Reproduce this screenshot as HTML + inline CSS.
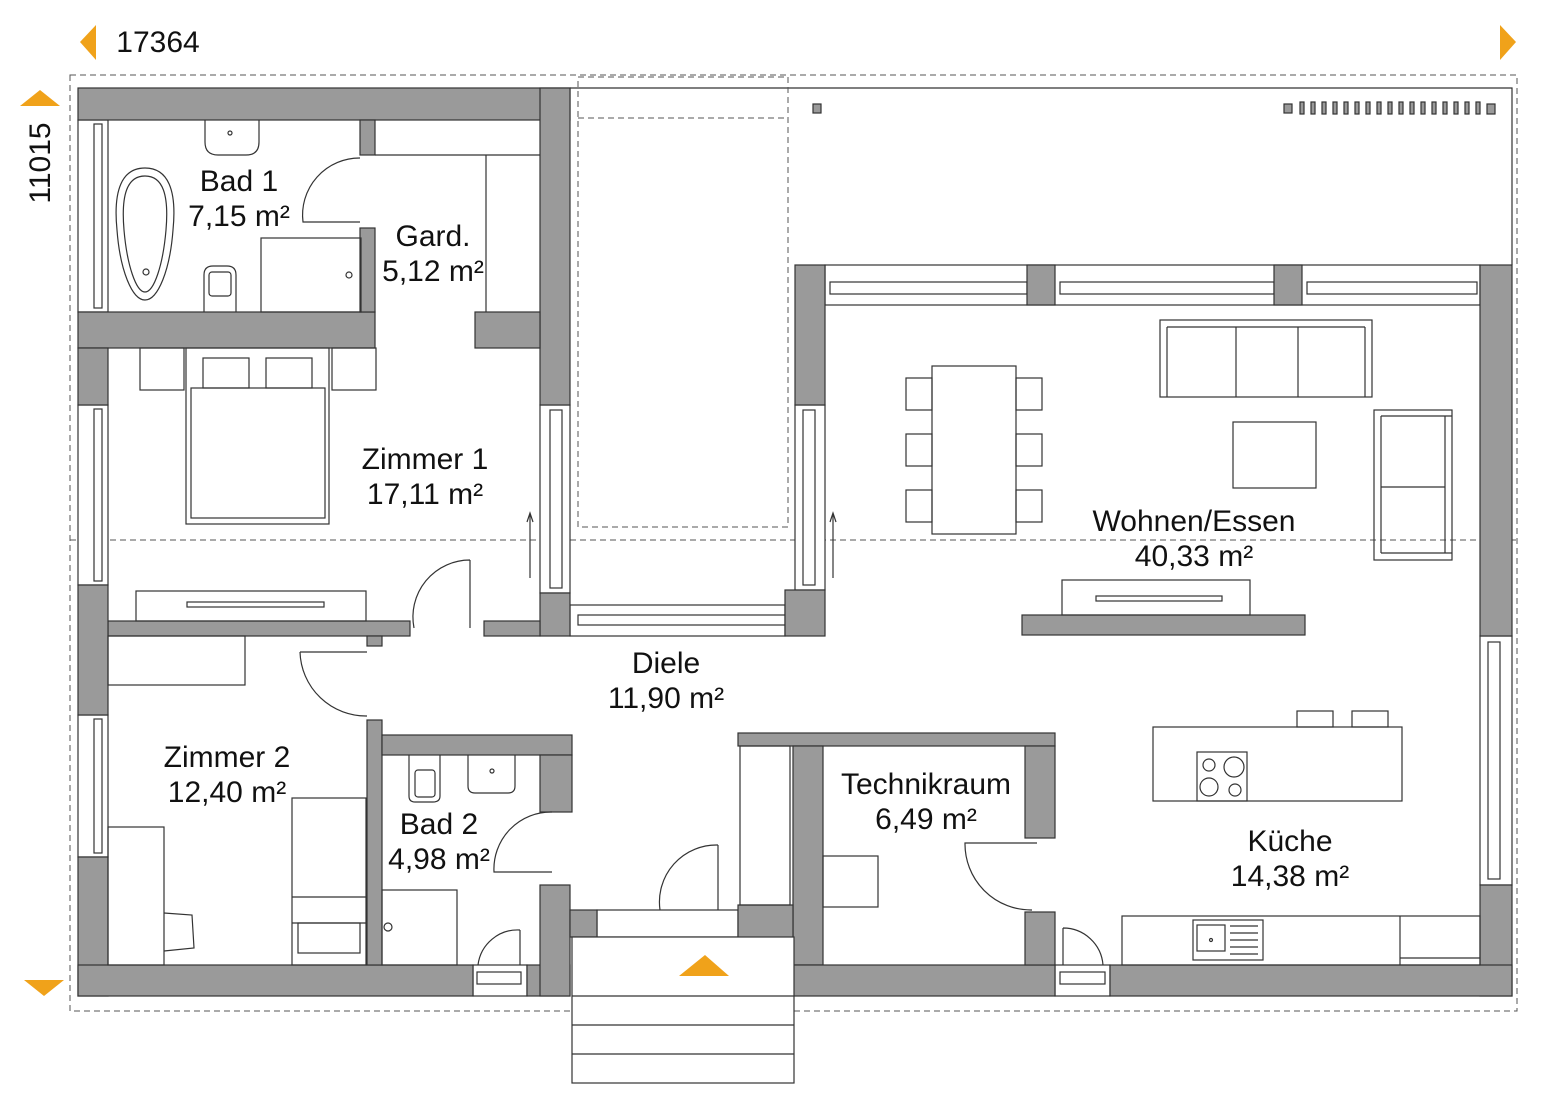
<!DOCTYPE html>
<html><head><meta charset="utf-8"><style>
body{margin:0;background:#fff}
svg{display:block}
text{font-family:"Liberation Sans",sans-serif;font-size:29px;fill:#111;text-anchor:middle}
.w{fill:#9a9a9a;stroke:#333;stroke-width:1.2}
.f{fill:#fff;stroke:#333;stroke-width:1.2}
.l{fill:none;stroke:#333;stroke-width:1.2}
.d{fill:none;stroke:#555;stroke-width:1;stroke-dasharray:6 4}
</style></head><body>
<svg width="1556" height="1117" viewBox="0 0 1556 1117" xmlns="http://www.w3.org/2000/svg">
<polygon points="96,25 80,42 96,60" fill="#f0a21a"/>
<polygon points="1500,25 1516,42 1500,60" fill="#f0a21a"/>
<polygon points="20,106 40,90 60,106" fill="#f0a21a"/>
<polygon points="24,980 44,996 64,980" fill="#f0a21a"/>
<text x="158" y="52" style="font-size:30px">17364</text>
<text x="0" y="0" transform="translate(50,163) rotate(-90)" style="font-size:30px">11015</text>
<rect class="d" x="70" y="75" width="1447" height="936"/>
<line class="d" x1="70" y1="540" x2="1517" y2="540"/>
<path class="l" d="M570,88 H1512 V265"/>
<rect class="d" x="578" y="77" width="210" height="450"/>
<line class="d" x1="578" y1="118" x2="788" y2="118"/>
<rect class="w" x="813" y="104" width="8" height="9"/>
<rect class="w" x="1284" y="104" width="8" height="9"/>
<g class="w">
<rect x="1300" y="102" width="4" height="12"/><rect x="1311" y="102" width="4" height="12"/><rect x="1322" y="102" width="4" height="12"/><rect x="1333" y="102" width="4" height="12"/><rect x="1344" y="102" width="4" height="12"/><rect x="1355" y="102" width="4" height="12"/><rect x="1366" y="102" width="4" height="12"/><rect x="1377" y="102" width="4" height="12"/><rect x="1388" y="102" width="4" height="12"/><rect x="1399" y="102" width="4" height="12"/><rect x="1410" y="102" width="4" height="12"/><rect x="1421" y="102" width="4" height="12"/><rect x="1432" y="102" width="4" height="12"/><rect x="1443" y="102" width="4" height="12"/><rect x="1454" y="102" width="4" height="12"/><rect x="1465" y="102" width="4" height="12"/><rect x="1476" y="102" width="4" height="12"/>
</g>
<rect class="w" x="1487" y="104" width="8" height="10"/>

<g class="f">
<rect x="78" y="120" width="30" height="192"/><rect x="94" y="124" width="8" height="184"/>
<rect x="78" y="405" width="30" height="180"/><rect x="94" y="409" width="8" height="172"/>
<rect x="78" y="715" width="30" height="142"/><rect x="94" y="719" width="8" height="134"/>
<rect x="540" y="405" width="30" height="188"/><rect x="550" y="410" width="12" height="178"/>
<rect x="795" y="405" width="30" height="185"/><rect x="803" y="410" width="12" height="175"/>
<rect x="825" y="265" width="655" height="40"/>
<rect x="830" y="282" width="197" height="12"/><rect x="1060" y="282" width="214" height="12"/><rect x="1307" y="282" width="170" height="12"/>
<rect x="1480" y="636" width="32" height="249"/><rect x="1488" y="642" width="12" height="237"/>
<rect x="570" y="605" width="215" height="31"/><rect x="578" y="615" width="207" height="10"/>
<rect x="473" y="965" width="54" height="31"/><rect x="477" y="972" width="44" height="12"/>
<rect x="1055" y="965" width="55" height="31"/><rect x="1060" y="972" width="45" height="12"/>
<rect x="597" y="910" width="141" height="27"/>
</g>
<g class="w">
<rect x="78" y="88" width="492" height="32"/>
<rect x="540" y="88" width="30" height="317"/>
<rect x="78" y="312" width="297" height="36"/>
<rect x="78" y="348" width="30" height="57"/>
<rect x="360" y="120" width="15" height="35"/>
<rect x="360" y="228" width="15" height="84"/>
<rect x="475" y="312" width="65" height="36"/>
<rect x="540" y="593" width="30" height="43"/>
<rect x="484" y="621" width="56" height="15"/>
<rect x="108" y="621" width="302" height="15"/>
<rect x="367" y="636" width="15" height="10"/>
<rect x="78" y="585" width="30" height="130"/>
<rect x="78" y="857" width="30" height="139"/>
<rect x="78" y="965" width="395" height="31"/>
<rect x="527" y="965" width="43" height="31"/>
<rect x="540" y="885" width="30" height="111"/>
<rect x="570" y="910" width="27" height="27"/>
<rect x="367" y="720" width="15" height="245"/>
<rect x="382" y="735" width="190" height="20"/>
<rect x="540" y="755" width="32" height="57"/>
<rect x="785" y="590" width="40" height="46"/>
<rect x="795" y="265" width="30" height="140"/>
<rect x="1027" y="265" width="28" height="40"/>
<rect x="1274" y="265" width="28" height="40"/>
<rect x="1480" y="265" width="32" height="371"/>
<rect x="1480" y="885" width="32" height="111"/>
<rect x="1110" y="965" width="402" height="31"/>
<rect x="738" y="733" width="317" height="13"/>
<rect x="793" y="746" width="30" height="219"/>
<rect x="738" y="905" width="55" height="91"/>
<rect x="793" y="965" width="262" height="31"/>
<rect x="1025" y="746" width="30" height="92"/>
<rect x="1025" y="912" width="30" height="53"/>
<rect x="1022" y="615" width="283" height="20"/>
</g>
<rect class="f" x="572" y="937" width="222" height="146"/>
<line class="l" x1="572" y1="996" x2="794" y2="996"/>
<line class="l" x1="572" y1="1025" x2="794" y2="1025"/>
<line class="l" x1="572" y1="1054" x2="794" y2="1054"/>
<polygon points="679,976 705,955 729,976" fill="#f0a21a"/>
<g class="l">
<path d="M360,158 A57,57 0 0 0 303,222 H360"/>
<path d="M470,560 V628 M470,560 A57,57 0 0 0 414,628"/>
<path d="M300,652 H367 M300,652 A66,66 0 0 0 367,716"/>
<path d="M552,812 A57,57 0 0 0 494,872 H552"/>
<path d="M1037,843 H965 A66,66 0 0 0 1032,910"/>
<path d="M718,845 V910 M718,845 A57,57 0 0 0 660,910"/>
<path d="M520,930 V965 M520,930 A40,40 0 0 0 478,965"/>
<path d="M1063,928 V965 M1063,928 A40,40 0 0 1 1103,965"/>
<line x1="530" y1="578" x2="530" y2="515"/><path d="M527,522 L530,513 L533,522"/>
<line x1="833" y1="578" x2="833" y2="515"/><path d="M830,522 L833,513 L836,522"/>
</g>
<g class="l">
<path d="M205,120 V142 Q205,155 218,155 H246 Q259,155 259,142 V120"/>
<circle cx="230" cy="133" r="2"/>
<path d="M145,168 C168,168 177,190 173,230 C170,270 158,300 145,300 C132,300 120,270 117,230 C113,190 122,168 145,168 Z"/>
<path d="M145,176 C163,176 169,195 166,230 C163,265 154,292 145,292 C136,292 127,265 124,230 C121,195 127,176 145,176 Z"/>
<circle cx="146" cy="272" r="3"/>
<path d="M204,312 V275 Q204,266 213,266 H227 Q236,266 236,275 V312"/>
<rect x="209" y="272" width="22" height="24" rx="3"/>
<rect x="261" y="238" width="100" height="74"/>
<circle cx="349" cy="275" r="3"/>
<path d="M375,155 H540 M486,155 V312"/>
</g>
<g class="l">
<rect x="140" y="348" width="44" height="42"/><rect x="332" y="348" width="44" height="42"/>
<rect x="186" y="348" width="143" height="176"/>
<rect x="191" y="388" width="134" height="130"/>
<rect x="203" y="358" width="46" height="30"/><rect x="266" y="358" width="46" height="30"/>
<rect x="136" y="591" width="230" height="30"/>
<rect x="187" y="602" width="137" height="5"/>
</g>
<g class="l">
<rect x="108" y="636" width="137" height="49"/>
<rect x="108" y="827" width="56" height="138"/>
<path d="M164,913 L192,915 L194,948 L164,951"/>
<rect x="292" y="798" width="74" height="167"/>
<line x1="292" y1="897" x2="366" y2="897"/><line x1="292" y1="923" x2="366" y2="923"/>
<rect x="298" y="923" width="62" height="30"/>
</g>
<g class="l">
<path d="M409,755 V796 Q409,802 415,802 H433 Q440,802 440,796 V755"/><rect x="415" y="770" width="20" height="27" rx="3"/>
<path d="M468,755 V786 Q468,793 475,793 H508 Q515,793 515,786 V755"/><circle cx="492" cy="771" r="2"/>
<rect x="382" y="890" width="75" height="75"/><circle cx="388" cy="927" r="4"/>
</g>
<rect class="l" x="740" y="746" width="50" height="159"/>
<rect class="l" x="823" y="856" width="55" height="51"/>
<g class="l">
<rect x="1160" y="320" width="212" height="77"/>
<line x1="1236" y1="327" x2="1236" y2="397"/><line x1="1298" y1="327" x2="1298" y2="397"/>
<line x1="1167" y1="327" x2="1167" y2="397"/><line x1="1365" y1="327" x2="1365" y2="397"/><line x1="1167" y1="327" x2="1365" y2="327"/>
<rect x="1233" y="422" width="83" height="66"/>
<rect x="1374" y="410" width="78" height="150"/>
<line x1="1381" y1="416" x2="1381" y2="553"/><line x1="1381" y1="416" x2="1452" y2="416"/><line x1="1381" y1="553" x2="1452" y2="553"/><line x1="1381" y1="487" x2="1445" y2="487"/><line x1="1445" y1="416" x2="1445" y2="553"/>
<rect x="932" y="366" width="84" height="168"/>
<rect x="906" y="378" width="26" height="32"/><rect x="906" y="434" width="26" height="32"/><rect x="906" y="490" width="26" height="32"/>
<rect x="1016" y="378" width="26" height="32"/><rect x="1016" y="434" width="26" height="32"/><rect x="1016" y="490" width="26" height="32"/>
<rect x="1062" y="580" width="188" height="35"/>
<rect x="1096" y="596" width="126" height="5"/>
</g>
<g class="l">
<rect x="1297" y="711" width="36" height="16"/><rect x="1352" y="711" width="36" height="16"/>
<rect x="1153" y="727" width="249" height="74"/>
<rect x="1197" y="752" width="50" height="49"/>
<circle cx="1209" cy="765" r="6"/><circle cx="1234" cy="767" r="10"/><circle cx="1209" cy="787" r="9"/><circle cx="1235" cy="790" r="6"/>
<rect x="1122" y="916" width="358" height="49"/>
<line x1="1400" y1="916" x2="1400" y2="965"/>
<rect x="1193" y="920" width="70" height="40"/><rect x="1197" y="925" width="28" height="26"/><circle cx="1211" cy="940" r="1.5"/>
<path d="M1230,926 H1258 M1230,933 H1258 M1230,940 H1258 M1230,947 H1258 M1230,954 H1258"/>
<line x1="1400" y1="958" x2="1480" y2="958"/>
</g>
<g style="font-size:30px">
<text x="239" y="191" style="font-size:30px">Bad 1</text><text x="239" y="226" style="font-size:30px">7,15 m²</text>
<text x="433" y="246" style="font-size:30px">Gard.</text><text x="433" y="281" style="font-size:30px">5,12 m²</text>
<text x="425" y="469" style="font-size:30px">Zimmer 1</text><text x="425" y="504" style="font-size:30px">17,11 m²</text>
<text x="1194" y="531" style="font-size:30px">Wohnen/Essen</text><text x="1194" y="566" style="font-size:30px">40,33 m²</text>
<text x="666" y="673" style="font-size:30px">Diele</text><text x="666" y="708" style="font-size:30px">11,90 m²</text>
<text x="227" y="767" style="font-size:30px">Zimmer 2</text><text x="227" y="802" style="font-size:30px">12,40 m²</text>
<text x="439" y="834" style="font-size:30px">Bad 2</text><text x="439" y="869" style="font-size:30px">4,98 m²</text>
<text x="926" y="794" style="font-size:30px">Technikraum</text><text x="926" y="829" style="font-size:30px">6,49 m²</text>
<text x="1290" y="851" style="font-size:30px">Küche</text><text x="1290" y="886" style="font-size:30px">14,38  m²</text>
</g>
</svg>
</body></html>
